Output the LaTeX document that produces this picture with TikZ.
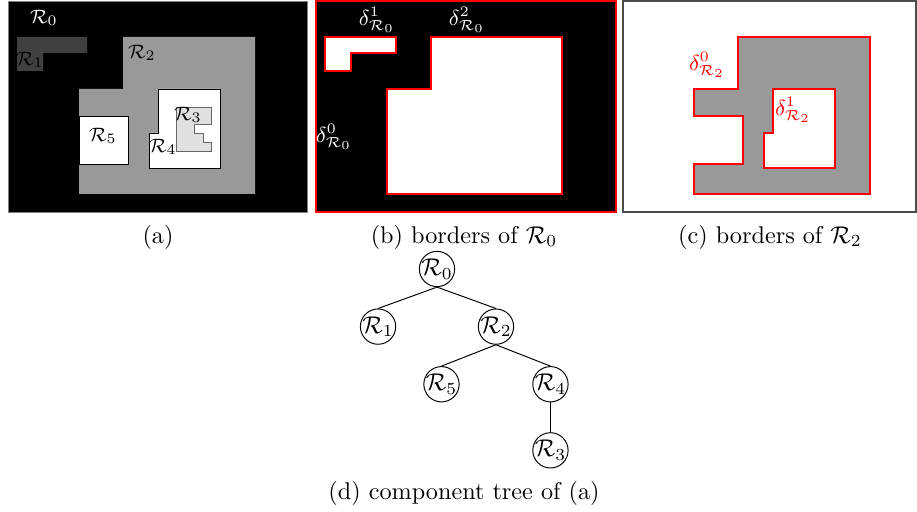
\documentclass[tikz,border=0pt]{standalone}
\usepackage{amsmath}
\begin{document}
\begin{tikzpicture}[x=0.413pt,y=-0.413pt,
   edge from parent path=
    {(\tikzparentnode.south) -- (\tikzchildnode.north)},
   level distance=23.8pt,
   level 1/.style={sibling distance=48.7pt},
   level 2/.style={sibling distance=45pt},
   level 3/.style={level distance=27.3pt},
   tnode/.style={draw,circle,inner sep=-0.3pt},
   rlab/.style={font=\fontsize{8.5}{10}\selectfont,inner sep=0pt},
   dlab/.style={font=\fontsize{8.7}{10}\selectfont,inner sep=0pt},
   captxt/.style={inner sep=0pt},
   rborder/.style={draw=red,line width=0.45pt}]

\useasboundingbox (0,0) rectangle (917,512);

% (a) the image
\fill[black,draw=gray] (8,1) rectangle (307,212);
\fill[black!75] (17,37) -- (87,37) -- (87,53) -- (43,53) -- (43,71) -- (17,71) -- cycle;
\fill[black!40] (123,37) -- (255,37) -- (255,194) -- (79,194) -- (79,89) -- (123,89) -- cycle;
\filldraw[fill=white,draw=black] (79,116) rectangle (128,164);
\filldraw[fill=white,draw=black] (158,89) -- (220,89) -- (220,168) -- (149,168) -- (149,133) -- (158,133) -- cycle;
\filldraw[fill=black!12,draw=black!60] (176,107) -- (211,107) -- (211,124) -- (194,124) -- (194,133)
   -- (203,133) -- (203,142) -- (211,142) -- (211,151) -- (176,151) -- cycle;
\node[rlab,white] (r0) at (44,18) {$\mathcal{R}_0$};
\node[rlab] (r1) at (30,60) {$\mathcal{R}_1$};
\node[rlab] (r2) at (142,53) {$\mathcal{R}_2$};
\node[rlab] (r5) at (103,136) {$\mathcal{R}_5$};
\node[rlab] (r4) at (163,147) {$\mathcal{R}_4$};
\node[rlab] (r3) at (188,115) {$\mathcal{R}_3$};

% (b) borders of R0
\filldraw[fill=black,rborder] (316,1) rectangle (616,212);
\filldraw[fill=white,rborder] (325,37) -- (396,37) -- (396,53) -- (351,53) -- (351,71) -- (325,71) -- cycle;
\filldraw[fill=white,rborder] (431,37) -- (562,37) -- (562,194) -- (387,194) -- (387,89) -- (431,89) -- cycle;
\node[dlab,white] (b1) at (377,20) {$\delta^1_{\mathcal{R}_0}$};
\node[dlab,white] (b2) at (467,20) {$\delta^2_{\mathcal{R}_0}$};
\node[dlab,white] (b0) at (334,137) {$\delta^0_{\mathcal{R}_0}$};

% (c) borders of R2
\filldraw[fill=white,draw=black!70,line width=0.45pt] (623,1) rectangle (916,212);
\filldraw[fill=black!40,rborder] (738,37) -- (870,37) -- (870,194) -- (694,194) -- (694,164) -- (743,164)
   -- (743,116) -- (694,116) -- (694,89) -- (738,89) -- cycle;
\filldraw[fill=white,rborder] (773,89) -- (835,89) -- (835,168) -- (764,168) -- (764,133) -- (773,133) -- cycle;
\node[dlab,red] (c0) at (707,65) {$\delta^0_{\mathcal{R}_2}$};
\node[dlab,red] (c1) at (793,110) {$\delta^1_{\mathcal{R}_2}$};

% captions
\node[captxt] (capa) at (158,237) {(a)};
\node[captxt] (capb) at (464,237) {(b) borders of $\mathcal{R}_0$};
\node[captxt] (capc) at (770,237) {(c) borders of $\mathcal{R}_2$};
\node[captxt] (capd) at (464,493) {(d) component tree of (a)};

% (d) the tree
\node[tnode] (t0) at (437,269) {$\mathcal{R}_0$}
    child {node[tnode] (t1) {$\mathcal{R}_1$}}
    child {node[tnode] (t2) {$\mathcal{R}_2$}
      child {node[tnode] (t5) {$\mathcal{R}_5$}}
      child {node[tnode] (t4) {$\mathcal{R}_4$}
        child {node[tnode] (t3) {$\mathcal{R}_3$}}
      }
    };

\end{tikzpicture}
\end{document}
